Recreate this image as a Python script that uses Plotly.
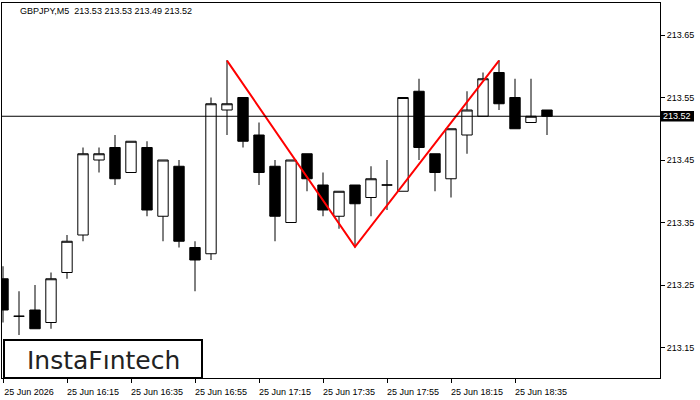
import plotly.graph_objects as go

# ---- data ----
times = ["15:55","16:00","16:05","16:10","16:15","16:20","16:25","16:30","16:35","16:40",
         "16:45","16:50","16:55","17:00","17:05","17:10","17:15","17:20","17:25","17:30",
         "17:35","17:40","17:45","17:50","17:55","18:00","18:05","18:10","18:15","18:20",
         "18:25","18:30","18:35","18:40","18:45"]
opens  = [213.26,213.20,213.21,213.19,213.27,213.33,213.45,213.47,213.43,213.47,
          213.36,213.44,213.31,213.30,213.53,213.55,213.49,213.44,213.35,213.46,
          213.41,213.36,213.41,213.39,213.41,213.40,213.56,213.46,213.42,213.49,
          213.52,213.59,213.55,213.51,213.53]
highs  = [213.28,213.24,213.25,213.27,213.33,213.47,213.47,213.49,213.48,213.48,
          213.45,213.45,213.32,213.55,213.61,213.55,213.51,213.45,213.45,213.46,
          213.43,213.40,213.41,213.44,213.45,213.55,213.58,213.46,213.50,213.56,
          213.59,213.61,213.58,213.58,213.53]
lows   = [213.19,213.17,213.18,213.18,213.26,213.32,213.43,213.41,213.43,213.36,
          213.32,213.31,213.24,213.29,213.49,213.47,213.41,213.32,213.35,213.40,
          213.36,213.34,213.31,213.36,213.37,213.40,213.45,213.40,213.39,213.46,
          213.52,213.53,213.50,213.51,213.49]
closes = [213.21,213.20,213.18,213.26,213.32,213.46,213.46,213.42,213.48,213.37,
          213.45,213.32,213.29,213.54,213.54,213.48,213.43,213.36,213.45,213.42,
          213.37,213.40,213.38,213.42,213.41,213.55,213.47,213.43,213.50,213.53,
          213.58,213.54,213.50,213.52,213.52]

pattern_times = ["17:05", "17:45", "18:30"]
pattern_prices = [213.609, 213.311, 213.609]

current_price = 213.52
header = "GBPJPY,M5  213.53 213.53 213.49 213.52"

xtick_vals = ["15:55","16:15","16:35","16:55","17:15","17:35","17:55","18:15","18:35"]
xtick_text = ["25 Jun 2026","25 Jun 16:15","25 Jun 16:35","25 Jun 16:55","25 Jun 17:15",
              "25 Jun 17:35","25 Jun 17:55","25 Jun 18:15","25 Jun 18:35"]
ytick_vals = [213.15, 213.25, 213.35, 213.45, 213.55, 213.65]
ytick_text = ["213.15","213.25","213.35","213.45","213.55","213.65"]

FONT = "Liberation Sans"

fig = go.Figure()
fig.add_trace(go.Candlestick(
    x=times, open=opens, high=highs, low=lows, close=closes,
    increasing=dict(line=dict(color="black", width=1), fillcolor="white"),
    decreasing=dict(line=dict(color="black", width=1), fillcolor="black"),
    whiskerwidth=0, showlegend=False, hoverinfo="skip",
))
fig.add_trace(go.Scatter(
    x=pattern_times, y=pattern_prices, mode="lines",
    line=dict(color="#ff0000", width=2), showlegend=False, hoverinfo="skip",
))

# plot area: x 2..660, y 3..378
W, H = 700, 400
L, R, T, B = 2, 40, 3, 22
pw = W - L - R
ph = H - T - B

fig.update_layout(
    width=W, height=H,
    margin=dict(l=L, r=R, t=T, b=B, pad=0),
    paper_bgcolor="white", plot_bgcolor="white",
    boxgap=0.35, boxgroupgap=0,
    font=dict(family=FONT, size=9, color="black"),
    xaxis=dict(
        type="category", range=[-0.0625, -0.0625 + pw / 16],
        rangeslider=dict(visible=False),
        showgrid=False, zeroline=False,
        showline=True, linecolor="black", linewidth=1, mirror=True,
        ticks="outside", ticklen=4, tickcolor="black", tickwidth=1,
        tickvals=xtick_vals, ticktext=xtick_text,
        ticklabelshift=26, ticklabelstandoff=1,
        tickfont=dict(family=FONT, size=9, color="black"),
    ),
    yaxis=dict(
        side="right", range=[213.7012 - ph / 625, 213.7012],
        showgrid=False, zeroline=False,
        showline=True, linecolor="black", linewidth=1, mirror=True,
        ticks="outside", ticklen=4, tickcolor="black", tickwidth=1,
        tickvals=ytick_vals, ticktext=ytick_text,
        tickfont=dict(family=FONT, size=9, color="black"),
    ),
)

# current price line and label
fig.add_shape(type="line", xref="paper", yref="y", x0=0, x1=1,
              y0=current_price, y1=current_price, line=dict(color="black", width=1))
fig.add_shape(type="rect", xref="paper", yref="y", x0=1, x1=1 + 34 / pw,
              y0=current_price - 0.0085, y1=current_price + 0.0085,
              fillcolor="black", line=dict(width=0))
fig.add_annotation(xref="paper", yref="y", x=1 + 17 / pw, y=current_price,
                   text=f"{current_price:.2f}", showarrow=False,
                   xanchor="center", yanchor="middle",
                   font=dict(family=FONT, size=9, color="white"))

# header
fig.add_annotation(xref="paper", yref="paper", x=16 / pw, y=1 - 8 / ph,
                   text=header, showarrow=False, xanchor="left", yanchor="middle",
                   font=dict(family=FONT, size=9, color="black"))

# logo box
fig.add_shape(type="rect", xref="paper", yref="paper",
              x0=2 / pw, x1=200 / pw, y0=0, y1=(378 - 340) / ph,
              fillcolor="white", line=dict(color="black", width=2))
fig.add_annotation(xref="paper", yref="paper", x=101 / pw, y=(378 - 360) / ph,
                   text="InstaF\u0131ntech", showarrow=False,
                   xanchor="center", yanchor="middle",
                   font=dict(family="DejaVu Sans", size=25, color="#222222"))

fig.write_html("out.html")
